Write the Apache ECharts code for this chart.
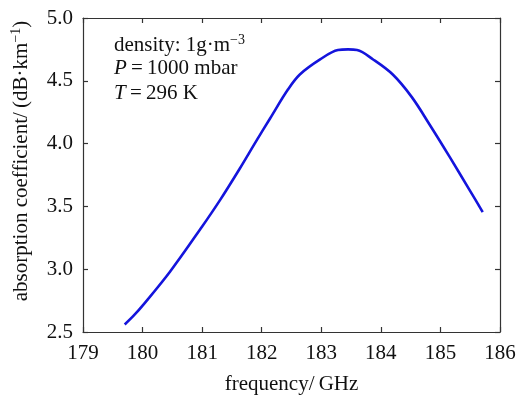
<!DOCTYPE html>
<html>
<head>
<meta charset="utf-8">
<script src="https://cdn.jsdelivr.net/npm/echarts@6/dist/echarts.min.js"></script>
<style>html,body{margin:0;padding:0;background:#fff}#c{width:518px;height:396px}</style>
</head>
<body>
<div id="c"></div>
<script>
const frequency = [179.70, 179.85, 180.00, 180.46, 181.00, 181.30, 181.63, 181.92, 182.14, 182.44, 182.64, 182.98, 183.28, 183.45, 183.60, 183.87, 184.20, 184.52, 184.82, 185.16, 185.49, 185.71];
const absorption = [2.56, 2.63, 2.71, 2.98, 3.34, 3.55, 3.80, 4.03, 4.20, 4.43, 4.55, 4.67, 4.745, 4.75, 4.745, 4.67, 4.55, 4.37, 4.15, 3.89, 3.63, 3.455];
const xTicks = [179, 180, 181, 182, 183, 184, 185, 186];
const yTicks = [2.5, 3.0, 3.5, 4.0, 4.5, 5.0];
const annotationLines = ['density: 1g·m{sup|−3}', '{it|P}\u2009=\u20091000 mbar', '{it|T}\u2009=\u2009296 K'];

const FONT = '"Liberation Serif", "Times New Roman", serif';
const FS = 21;
const axisColor = '#333';
const chart = echarts.init(document.getElementById('c'), null, {renderer: 'canvas'});
const xMin = xTicks[0], xMax = xTicks[xTicks.length - 1];
const yMin = yTicks[0], yMax = yTicks[yTicks.length - 1];
const supRich = {
  sup: {fontFamily: FONT, fontSize: 14, color: '#111', verticalAlign: 'top', padding: [0, 0, 10, 0]},
  it: {fontFamily: FONT, fontSize: FS, fontStyle: 'italic', color: '#111'}
};
const baseX = {
  type: 'value', min: xMin, max: xMax, interval: 1,
  axisLine: {show: true, onZero: false, lineStyle: {color: axisColor, width: 1.2}},
  axisTick: {show: true, inside: true, length: 5, lineStyle: {color: axisColor, width: 1.2}},
  splitLine: {show: false}
};
const baseY = {
  type: 'value', min: yMin, max: yMax, interval: 0.5,
  axisLine: {show: true, onZero: false, lineStyle: {color: axisColor, width: 1.2}},
  axisTick: {show: true, inside: true, length: 5, lineStyle: {color: axisColor, width: 1.2}},
  splitLine: {show: false}
};
chart.setOption({
  animation: false,
  backgroundColor: '#fff',
  grid: {left: 83, right: 18, top: 18, bottom: 64, containLabel: false, outerBoundsMode: 'none'},
  xAxis: [
    Object.assign({}, baseX, {
      position: 'bottom',
      name: 'frequency/\u2009GHz', nameLocation: 'middle', nameGap: 42,
      nameTextStyle: {fontFamily: FONT, fontSize: FS, color: '#111'},
      axisLabel: {show: true, margin: 11, fontFamily: FONT, fontSize: FS, color: '#111',
        formatter: v => String(v)}
    }),
    Object.assign({}, baseX, {position: 'top', axisLabel: {show: false}})
  ],
  yAxis: [
    Object.assign({}, baseY, {
      position: 'left',
      name: 'absorption coefficient/\u2009(dB·km{sup|−1})', nameLocation: 'middle', nameGap: 50, nameRotate: 90,
      nameTextStyle: {fontFamily: FONT, fontSize: FS, color: '#111', rich: supRich, padding: [0, 0, 0, 28]},
      axisLabel: {show: true, margin: 10, fontFamily: FONT, fontSize: FS, color: '#111',
        formatter: v => v.toFixed(1)}
    }),
    Object.assign({}, baseY, {position: 'right', axisLabel: {show: false}})
  ],
  graphic: annotationLines.map((t, i) => ({
    type: 'text', left: 114, top: 33 + i * 25,
    style: {text: t, fontFamily: FONT, fontSize: FS, fill: '#111', rich: supRich}
  })),
  series: [{
    type: 'line',
    data: frequency.map((f, i) => [f, absorption[i]]),
    showSymbol: false, smooth: 0.35,
    lineStyle: {color: '#1414dc', width: 2.6},
    xAxisIndex: 0, yAxisIndex: 0
  }]
});
</script>
</body>
</html>
